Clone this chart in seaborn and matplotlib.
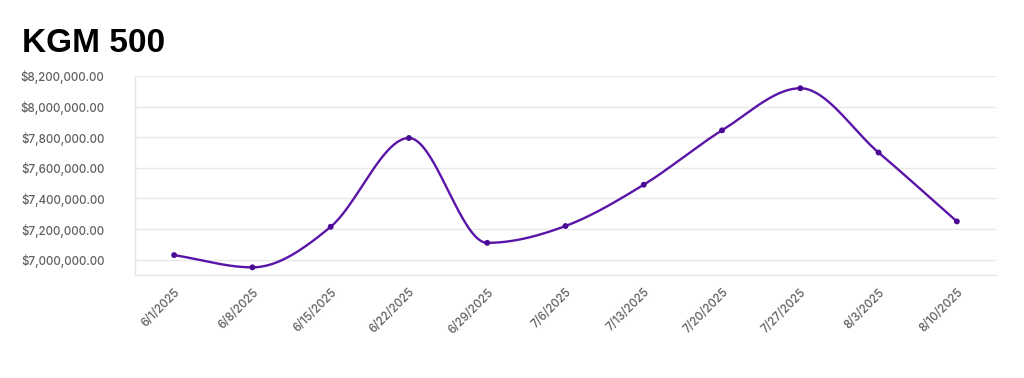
import numpy as np
import matplotlib
matplotlib.use("Agg")
import matplotlib.pyplot as plt
import seaborn as sns
from matplotlib.ticker import FuncFormatter

dates = ["6/1/2025", "6/8/2025", "6/15/2025", "6/22/2025", "6/29/2025", "7/6/2025",
         "7/13/2025", "7/20/2025", "7/27/2025", "8/3/2025", "8/10/2025"]
values = [7030000, 6950000, 7215000, 7795000, 7110000, 7220000,
          7490000, 7845000, 8120000, 7700000, 7250000]
y_ticks = [7000000, 7200000, 7400000, 7600000, 7800000, 8000000, 8200000]

LINE = "#5a14a8"


def monotone_path(x, y, n=40):
    # Fritsch-Carlson monotone cubic, like the "monotone" smoothing of web charts
    x = np.asarray(x, float)
    y = np.asarray(y, float)
    h = np.diff(x)
    d = np.diff(y) / h
    m = np.zeros_like(y)
    m[0], m[-1] = d[0], d[-1]
    for i in range(1, len(y) - 1):
        if d[i - 1] * d[i] <= 0:
            m[i] = 0
        else:
            m[i] = (d[i - 1] + d[i]) / 2
    for i in range(len(d)):
        if d[i] == 0:
            m[i] = m[i + 1] = 0
            continue
        a, b = m[i] / d[i], m[i + 1] / d[i]
        s = a * a + b * b
        if s > 9:
            t = 3 / np.sqrt(s)
            m[i], m[i + 1] = t * a * d[i], t * b * d[i]
    xs, ys = [], []
    for i in range(len(d)):
        t = np.linspace(0, 1, n)
        h00 = 2 * t**3 - 3 * t**2 + 1
        h10 = t**3 - 2 * t**2 + t
        h01 = -2 * t**3 + 3 * t**2
        h11 = t**3 - t**2
        xs.append(x[i] + t * h[i])
        ys.append(h00 * y[i] + h10 * h[i] * m[i] + h01 * y[i + 1] + h11 * h[i] * m[i + 1])
    return np.concatenate(xs), np.concatenate(ys)


sns.set_theme(style="white")
plt.rcParams["font.family"] = ["Inter", "DejaVu Sans"]

fig = plt.figure(figsize=(10.24, 3.78), dpi=100)
ax = fig.add_axes([135 / 1024, 1 - 275 / 378, (996 - 135) / 1024, (275 - 76) / 378])

xpos = np.arange(len(dates))
sx, sy = monotone_path(xpos, values)
sns.lineplot(x=sx, y=sy, ax=ax, color=LINE, linewidth=1.7, sort=False, estimator=None)
sns.scatterplot(x=xpos, y=values, ax=ax, color="#4b0a96", s=18, edgecolor="none", zorder=3)

ax.set_xlim(-0.5, len(dates) - 0.5)
ax.set_ylim(6900000, 8200000)
ax.set_yticks(y_ticks)
ax.yaxis.set_major_formatter(FuncFormatter(lambda v, p: f"${v:,.2f}"))
ax.set_xticks(xpos)
ax.set_xticklabels(dates, rotation=45, ha="right", rotation_mode="anchor")
ax.tick_params(axis="both", labelsize=8.3, labelcolor="#5f5f5f")
ax.tick_params(axis="x", length=0, pad=8)
ax.tick_params(axis="y", length=11, width=1, color="#e8e8e8", pad=11)
for lab in ax.get_yticklabels() + ax.get_xticklabels():
    lab.set_fontweight(500)
ax.grid(axis="y", color="#e8e8e8", linewidth=1)
ax.grid(axis="x", visible=False)
for side in ["top", "right"]:
    ax.spines[side].set_visible(False)
for side in ["left", "bottom"]:
    ax.spines[side].set_color("#e6e6e6")
    ax.spines[side].set_linewidth(1)

fig.text(22 / 1024, 1 - 43 / 378, "KGM 500", fontsize=24, fontweight="bold",
         color="black", va="center", ha="left", family=["Liberation Sans", "DejaVu Sans"])

fig.savefig("out.png", dpi=100, facecolor="white")
